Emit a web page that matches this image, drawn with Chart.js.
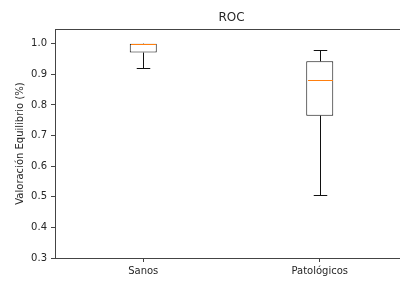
<!DOCTYPE html>
<html>
<head>
<meta charset="utf-8">
<script src="https://cdn.jsdelivr.net/npm/chart.js@4/dist/chart.umd.min.js"></script>
<style>
  html, body { margin: 0; padding: 0; background: #fff; overflow: hidden; }
  #wrap { width: 400px; height: 282px; overflow: hidden; }
</style>
</head>
<body>
<div id="wrap"><canvas id="roc" width="408" height="282"></canvas></div>
<script>
// datos del boxplot
const categories = ['Sanos', 'Patológicos'];
const whiskerLow = [0.921, 0.507];
const q1 = [0.971, 0.765];
const medians = [1.0, 0.882];
const q3 = [1.0, 0.9425];
const whiskerHigh = [1.0, 0.978];
const yTicks = [0.3, 0.4, 0.5, 0.6, 0.7, 0.8, 0.9, 1.0];
const chartTitle = 'ROC';
const yTitle = 'Valoración Equilibrio (%)';

const FONT = 'DejaVu Sans';
const TEXT = '#262626';
const SPINE = '#444';
const BOX = '#111';

// bigotes y mediana, dibujados con las escalas de Chart.js
const boxPlugin = {
    id: 'boxWhiskers',
    afterDatasetsDraw(chart) {
        const ctx = chart.ctx;
        const xs = chart.scales.x;
        const ys = chart.scales.y;
        const meta = chart.getDatasetMeta(0);
        ctx.save();
        categories.forEach((c, i) => {
            const x = Math.round(xs.getPixelForValue(i)) + 0.5;
            const half = meta.data[i].width / 2;
            const cap = half / 2;
            const yHi = Math.round(ys.getPixelForValue(whiskerHigh[i])) + 0.5;
            const yLo = Math.round(ys.getPixelForValue(whiskerLow[i])) + 0.5;
            ctx.strokeStyle = BOX;
            ctx.lineWidth = 1;
            ctx.beginPath();
            // bigote superior
            ctx.moveTo(x, ys.getPixelForValue(q3[i]));
            ctx.lineTo(x, yHi);
            ctx.moveTo(x - cap, yHi);
            ctx.lineTo(x + cap, yHi);
            // bigote inferior
            ctx.moveTo(x, ys.getPixelForValue(q1[i]));
            ctx.lineTo(x, yLo);
            ctx.moveTo(x - cap, yLo);
            ctx.lineTo(x + cap, yLo);
            ctx.stroke();
            // mediana
            ctx.strokeStyle = '#ff7f0e';
            ctx.beginPath();
            const ym = Math.round(ys.getPixelForValue(medians[i])) + 0.5;
            ctx.moveTo(x - half + 1, ym);
            ctx.lineTo(x + half - 1, ym);
            ctx.stroke();
        });
        ctx.restore();
    }
};

new Chart(document.getElementById('roc'), {
    type: 'bar',
    data: {
        labels: categories,
        datasets: [{
            data: categories.map((c, i) => [q1[i], q3[i]]),
            backgroundColor: '#fff',
            borderColor: BOX,
            borderWidth: 1,
            borderSkipped: false,
            categoryPercentage: 1,
            barPercentage: 0.153
        }]
    },
    options: {
        responsive: false,
        animation: false,
        layout: { padding: 0 },
        plugins: {
            legend: { display: false },
            tooltip: { enabled: false }
        },
        scales: {
            x: {
                position: 'bottom',
                grid: { display: true, drawOnChartArea: false, drawTicks: true, tickLength: 4, color: SPINE, offset: false },
                border: { display: true, color: SPINE, width: 1 },
                ticks: { color: TEXT, font: { family: FONT, size: 10 }, padding: 3, maxRotation: 0 },
                afterFit: axis => { axis.height = 24; }
            },
            xTop: {
                type: 'category',
                position: 'top',
                grid: { display: false },
                border: { display: true, color: SPINE, width: 1 },
                ticks: { display: false },
                title: { display: true, text: chartTitle, color: TEXT, font: { family: FONT, size: 12 }, padding: { top: 11, bottom: 0 } },
                afterFit: axis => { axis.height = 29; }
            },
            y: {
                min: 0.3,
                max: 1.048,
                grid: { display: true, drawOnChartArea: false, drawTicks: true, tickLength: 4, color: SPINE },
                border: { display: true, color: SPINE, width: 1 },
                ticks: {
                    color: TEXT,
                    font: { family: FONT, size: 10 },
                    padding: 4,
                    callback: v => Number(v).toFixed(1)
                },
                afterBuildTicks: axis => { axis.ticks = yTicks.map(v => ({ value: v })); },
                title: { display: true, text: yTitle, color: TEXT, font: { family: FONT, size: 10 }, padding: { top: 14, bottom: 0 } },
                afterFit: axis => { axis.width = 55; }
            }
        }
    },
    plugins: [boxPlugin]
});
</script>
</body>
</html>
